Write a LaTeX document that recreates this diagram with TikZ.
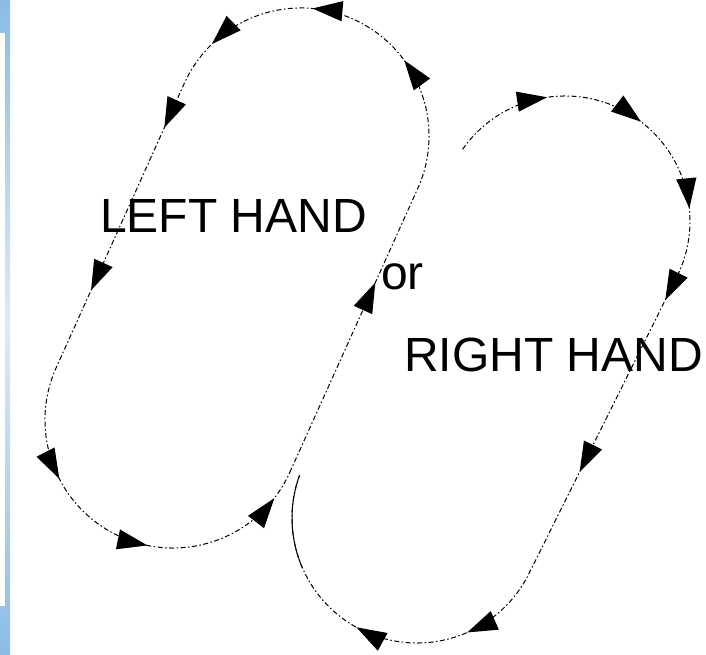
\documentclass[tikz,border=0pt]{standalone}
\usepackage{fontspec}
\setmainfont{Liberation Sans}
\usepackage{tikz}
\usetikzlibrary{
  arrows.meta,%
  % enables the arrow heads along the loops
  decorations.markings,%
  calc
}
\tikzset{>=latex}
\definecolor{stripblue}{RGB}{140,188,228}
\definecolor{striplight}{RGB}{222,234,245}
\tikzset{
  track/.style={line width=1pt, dash pattern=on 5pt off 2.5pt on 1.5pt off 2.5pt},
  tipat/.style={postaction={decorate, decoration={markings,
        mark=at position #1 with {\arrow[solid]{Triangle[length=30pt, width=20pt]}}}}},
  label/.style={font=\fontsize{48}{58}\selectfont, inner sep=0pt, anchor=base west}
}

\begin{document}
\begin{tikzpicture}[x=1pt, y=1pt]
  \useasboundingbox (0,0) rectangle (706,655);
  % blue strip at the left edge
  \shade[top color=stripblue, bottom color=striplight] (0,655) rectangle (10,330);
  \shade[top color=striplight, bottom color=stripblue] (0,330) rectangle (10,0);
  \fill[white] (0,622) rectangle (5,49);

  \coordinate (lefttop) at (301,519);
  \coordinate (leftbot) at (173,235);
  \coordinate (righttop) at (565,434);
  \coordinate (rightbot) at (417,137);

  % left hand loop
  \draw[track, tipat=0.146, tipat=0.313, tipat=0.389, tipat=0.466, tipat=0.534,
        tipat=0.659, tipat=0.799, tipat=0.879, tipat=0.979]
    ($(leftbot)+(-24.26:128)$) -- ($(lefttop)+(-24.26:128)$)
    arc[start angle=-24.26, end angle=155.74, radius=128]
    -- ($(leftbot)+(155.74:128)$)
    arc[start angle=155.74, end angle=335.74, radius=128];

  % right hand loop
  \draw[track, tipat=0.094, tipat=0.186, tipat=0.280, tipat=0.369, tipat=0.546,
        tipat=0.731, tipat=0.837]
    ($(righttop)+(145:125)$)
    arc[start angle=145, end angle=-26.48, radius=125]
    -- ($(rightbot)+(-26.48:125)$)
    arc[start angle=-26.48, end angle=-200, radius=125];
  \draw[line width=1pt] ($(rightbot)+(-156.6:125)$)
    arc[start angle=-156.6, end angle=-200, radius=125];

  \node[label] (lefthand) at (100,422) {LEFT HAND};
  \node[label] (or) at (381,365) {or};
  \node[label] (righthand) at (404,283) {RIGHT HAND};
\end{tikzpicture}
\end{document}
